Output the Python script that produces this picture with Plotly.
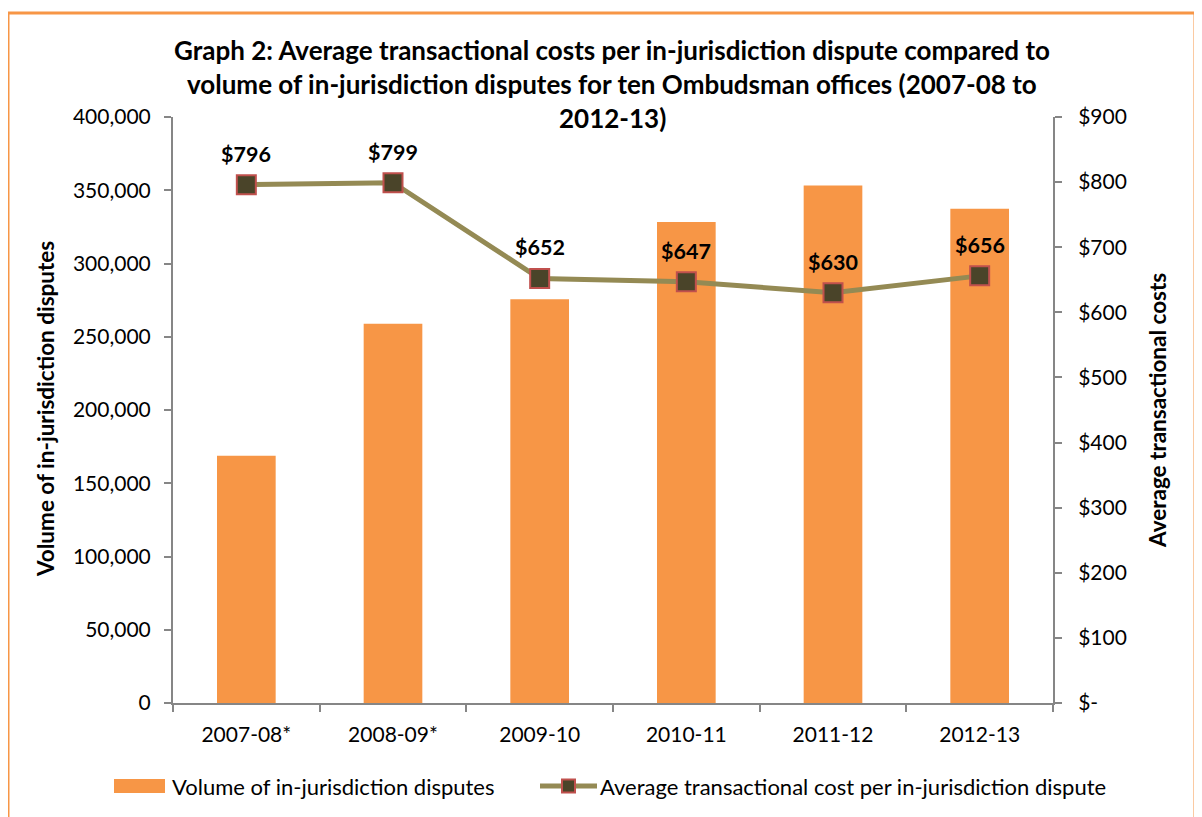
import plotly.graph_objects as go

categories = ["2007-08*", "2008-09*", "2009-10", "2010-11", "2011-12", "2012-13"]
volume = [168800, 258800, 275600, 328300, 353300, 337300]
avg_cost = [796, 799, 652, 647, 630, 656]
cost_labels = ["$796", "$799", "$652", "$647", "$630", "$656"]
left_ticks = [0, 50000, 100000, 150000, 200000, 250000, 300000, 350000, 400000]
right_ticks = [0, 100, 200, 300, 400, 500, 600, 700, 800, 900]
right_tick_text = ["$-", "$100", "$200", "$300", "$400", "$500", "$600", "$700", "$800", "$900"]

FONT = "Lato"
ORANGE = "#F79646"
OLIVE = "#948A54"
MARK = "#4A4429"
MARK_EDGE = "#C0504D"
AXIS = "#868686"

OFF = 8  # page body margin
W, H = 1202 - OFF, 817 - OFF
# target screen positions
L_s, R_s, T_s, B_s = 173, 1053, 117, 703
L, T = L_s - OFF, T_s - OFF
R = W - (R_s - OFF)
B = H - (B_s - OFF)
pw, ph = W - L - R, H - T - B

def px(x):
    return (x - OFF - L) / pw

def py(y):
    return (H - B - (y - OFF)) / ph

fig = go.Figure()
fig.add_trace(go.Bar(x=categories, y=volume, marker=dict(color=ORANGE, line=dict(width=0)),
                     width=0.4, name="Volume of in-jurisdiction disputes", yaxis="y"))
fig.add_trace(go.Scatter(x=categories, y=avg_cost, mode="lines+markers", yaxis="y2",
                         line=dict(color=OLIVE, width=5),
                         marker=dict(symbol="square", size=19, color=MARK,
                                     line=dict(color=MARK_EDGE, width=2)),
                         name="Average transactional cost per in-jurisdiction dispute"))

annotations = []
for c, v, t in zip(categories, avg_cost, cost_labels):
    annotations.append(dict(x=c, y=v, xref="x", yref="y2", text=t, showarrow=False,
                            yshift=31, font=dict(family=FONT, size=21.5, color="black", weight="bold")))

title_lines = [
    "Graph 2: Average transactional costs per in-jurisdiction dispute compared to",
    "volume of in-jurisdiction disputes for ten Ombudsman offices (2007-08 to",
    "2012-13)",
]
for i, line in enumerate(title_lines):
    annotations.append(dict(x=px(612), y=py(50 + 34 * i), xref="paper", yref="paper", text=line,
                            showarrow=False, xanchor="center", yanchor="middle",
                            font=dict(family=FONT, size=26, color="black", weight="bold")))

annotations.append(dict(x=px(45), y=py(409), xref="paper", yref="paper",
                        text="Volume of in-jurisdiction disputes", textangle=-90, showarrow=False,
                        xanchor="center", yanchor="middle",
                        font=dict(family=FONT, size=22.5, color="black", weight="bold")))
annotations.append(dict(x=px(1157), y=py(411), xref="paper", yref="paper",
                        text="Average transactional costs", textangle=-90, showarrow=False,
                        xanchor="center", yanchor="middle",
                        font=dict(family=FONT, size=22.5, color="black", weight="bold")))

# custom legend
annotations.append(dict(x=px(170), y=py(786), xref="paper", yref="paper",
                        text="Volume of in-jurisdiction disputes", showarrow=False,
                        xanchor="left", yanchor="middle", font=dict(family=FONT, size=22, color="black")))
annotations.append(dict(x=px(598), y=py(786), xref="paper", yref="paper",
                        text="Average transactional cost per in-jurisdiction dispute", showarrow=False,
                        xanchor="left", yanchor="middle", font=dict(family=FONT, size=22, color="black")))

shapes = [
    dict(type="rect", xref="paper", yref="paper", x0=px(8), x1=px(1195), y0=py(830), y1=py(13),
         line=dict(color=ORANGE, width=3), fillcolor="rgba(0,0,0,0)", layer="below"),
    dict(type="rect", xref="paper", yref="paper", x0=px(114), x1=px(165), y0=py(793), y1=py(779),
         line=dict(width=0), fillcolor=ORANGE),
    dict(type="line", xref="paper", yref="paper", x0=px(540), x1=px(597), y0=py(786), y1=py(786),
         line=dict(color=OLIVE, width=5)),
    dict(type="rect", xref="paper", yref="paper", x0=px(562), x1=px(575), y0=py(792.5), y1=py(779.5),
         line=dict(color=MARK_EDGE, width=2), fillcolor=MARK),
]

fig.update_layout(
    width=W, height=H, margin=dict(l=L, r=R, t=T, b=B, autoexpand=False),
    paper_bgcolor="white", plot_bgcolor="white", showlegend=False,
    font=dict(family=FONT, size=21, color="black"),
    bargap=0.6,
    xaxis=dict(type="category", showline=True, linecolor=AXIS, linewidth=2, ticks="outside",
               tickson="boundaries", ticklen=7, tickcolor=AXIS, tickwidth=2, showgrid=False,
               tickfont=dict(family=FONT, size=21), range=[-0.5, 5.5], ticklabelstandoff=12),
    yaxis=dict(range=[0, 400000], tickvals=left_ticks, tickformat=",", showline=True,
               linecolor=AXIS, linewidth=2, ticks="outside", ticklen=7, tickcolor=AXIS,
               tickwidth=2, showgrid=False, zeroline=False, tickfont=dict(family=FONT, size=21),
               ticklabelstandoff=9),
    yaxis2=dict(range=[0, 900], tickvals=right_ticks, ticktext=right_tick_text, overlaying="y",
                side="right", showline=True, linecolor=AXIS, linewidth=2, ticks="outside",
                ticklen=7, tickcolor=AXIS, tickwidth=2, showgrid=False, zeroline=False,
                tickfont=dict(family=FONT, size=21), ticklabelstandoff=12),
    annotations=annotations, shapes=shapes,
)

fig.write_html("out.html")
